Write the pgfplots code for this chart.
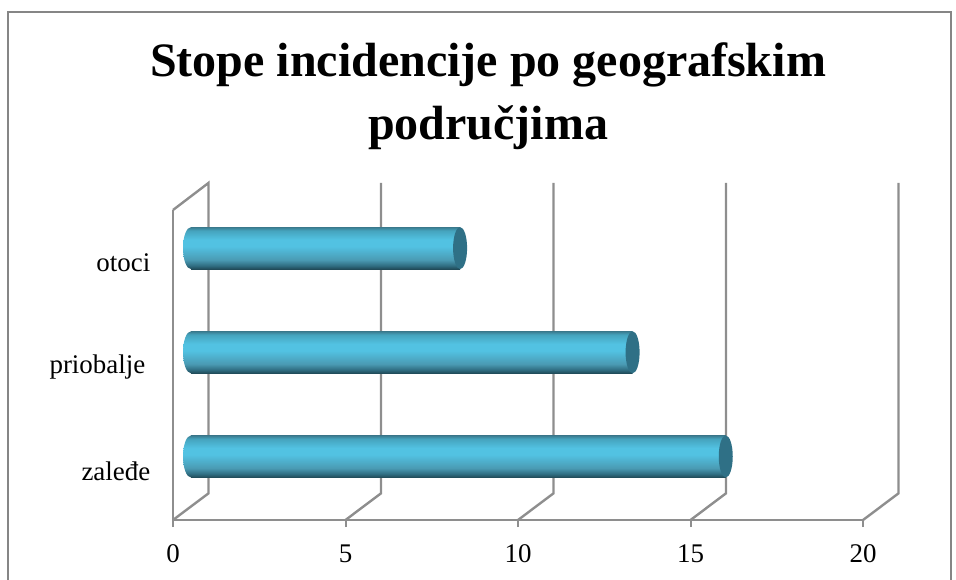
\documentclass[border=0pt]{standalone}
\usepackage{fontspec}
\setmainfont{Liberation Serif}
\usepackage{pgfplots}
\pgfplotsset{compat=1.18}

\definecolor{framegray}{HTML}{868686}
\definecolor{axisgray}{HTML}{8E8E8E}
\definecolor{capblue}{HTML}{2F7086}
\definecolor{cylA}{HTML}{3A7A8E}
\definecolor{cylB}{HTML}{45A3BD}
\definecolor{cylC}{HTML}{52C2E2}
\definecolor{cylD}{HTML}{4A9AB3}
\definecolor{cylE}{HTML}{2F6C80}
\definecolor{cylF}{HTML}{204A58}

% cylinder look: light band above the middle, dark underside
\pgfdeclareverticalshading{cyl}{100bp}{
  color(0bp)=(cylF); color(25bp)=(cylF); color(29bp)=(cylE); color(36bp)=(cylD);
  color(52bp)=(cylC); color(60bp)=(cylC); color(71bp)=(cylB); color(75bp)=(cylA); color(100bp)=(cylA)}
\pgfdeclareplotmark{capend}{%
  \pgfpathellipse{\pgfpointorigin}{\pgfpoint{5.25pt}{0pt}}{\pgfpoint{0pt}{15.75pt}}%
  \pgfsetfillcolor{capblue}\pgfusepath{fill}}
\pgfdeclareplotmark{capstart}{%
  \pgfpathellipse{\pgfpointorigin}{\pgfpoint{6pt}{0pt}}{\pgfpoint{0pt}{15.75pt}}%
  \pgfshadepath{cyl}{0}\pgfusepath{discard}}

\pgfplotsset{
  depth/.style={xshift=13.5pt,yshift=11.25pt,forget plot},
  cylbar/.style={xbar,bar width=31.5pt,bar shift=0pt,draw=none,shading=cyl,depth},
}

\begin{document}
\begin{tikzpicture}
\path[use as bounding box] (0pt,0pt) rectangle (717pt,-435pt);
\begin{scope}[x=0.75pt,y=-0.75pt]
  \draw[framegray,line width=1.5pt] (7.5,580) -- (7.5,12) -- (951,12) -- (951,580);
  \node[align=center,font=\fontsize{36pt}{47.25pt}\selectfont\bfseries] at (488,96)
    {Stope incidencije po geografskim\\područjima};
\end{scope}
\begin{axis}[
    at={(129.75pt,-390pt)},
    anchor=south west,
    scale only axis,
    width=517.5pt,
    height=232.5pt,
    xmin=0, xmax=20,
    ymin=-0.466, ymax=2.51,
    clip=false,
    axis x line=bottom,
    axis y line=left,
    axis line style={axisgray,line width=1.8pt,-},
    xtick={0,5,10,15,20},
    ytick={0,1,2},
    yticklabels={zaleđe,priobalje\kern3.75pt,otoci},
    x tick style={axisgray,line width=1.5pt},
    tick align=outside,
    major tick length=5.25pt,
    y tick style={draw=none},
    tick label style={font=\fontsize{20.2pt}{24pt}\selectfont},
    x tick label style={yshift=-9.75pt},
    y tick label style={xshift=-8.25pt},
    /pgf/number format/assume math mode=true,
    unbounded coords=jump,
]
% side wall and floor of the 3D frame
\addplot[axisgray,line width=1.8pt,forget plot] table {
x y
0 2.51
1.03 2.77
1.03 -0.21
0 -0.466
nan nan
5 -0.466
6.03 -0.21
6.03 2.77
nan nan
10 -0.466
11.03 -0.21
11.03 2.77
nan nan
15 -0.466
16.03 -0.21
16.03 2.77
nan nan
20 -0.466
21.03 -0.21
21.03 2.77
};
\addplot[only marks,mark=capstart,depth] coordinates {(0,2) (0,1) (0,0)};
\addplot[cylbar] coordinates {(7.8,2)};
\addplot[cylbar] coordinates {(12.8,1)};
\addplot[cylbar] coordinates {(15.5,0)};
\addplot[only marks,mark=capend,depth] coordinates {(7.8,2) (12.8,1) (15.5,0)};
\end{axis}
\end{tikzpicture}
\end{document}
